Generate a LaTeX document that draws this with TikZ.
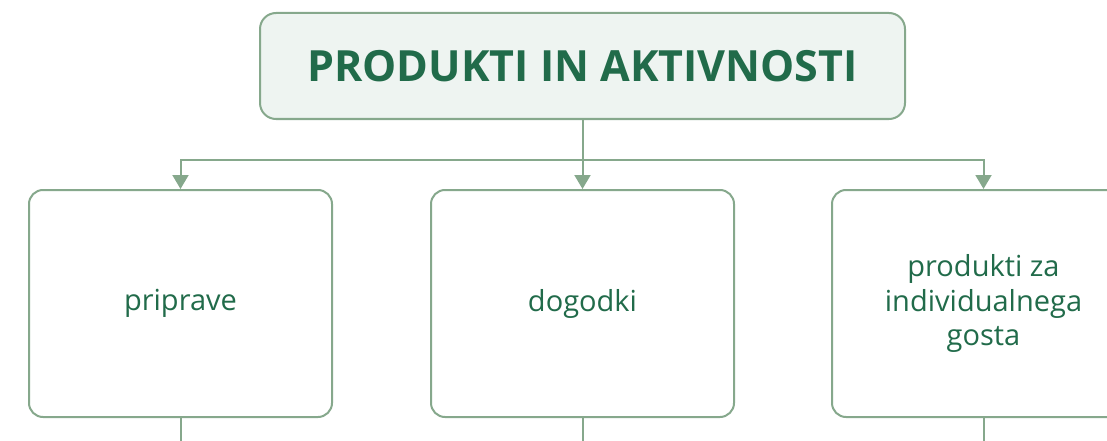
\documentclass[tikz,border=0pt]{standalone}
\usepackage{fontspec}
\setmainfont{Open Sans}
\usetikzlibrary{arrows.meta}
\definecolor{edge}{HTML}{86A88C}
\definecolor{topfill}{HTML}{EEF4F1}
\definecolor{ink}{HTML}{216B4A}
\tikzset{
  box/.style={draw=edge, line width=2pt, rounded corners=14pt, fill=white,
    text=ink, align=center, font=\fontsize{29}{34.5}\selectfont,
    minimum width=303pt, minimum height=227pt, inner sep=0pt},
  titlebox/.style={box, fill=topfill, rounded corners=16pt,
    minimum width=645pt, minimum height=106pt,
    font=\bfseries\fontsize{43}{48}\selectfont},
  link/.style={draw=edge, line width=2pt},
  arrowlink/.style={link, -{Triangle[width=16pt,length=14pt]}}
}
\begin{document}
\begin{tikzpicture}[x=1pt,y=-1pt]
\useasboundingbox (0,0) rectangle (1107,441);
\clip (0,0) rectangle (1107,441);
\node[titlebox] (top) at (582.5,66) {PRODUKTI IN AKTIVNOSTI};
\node[box] (a) at (180.5,303.5) {priprave};
\node[box] (b) at (582.5,303.5) {dogodki};
\node[box] (c) at (983.5,303.5) {produkti za\\individualnega\\gosta};
\coordinate (bar) at (582.5,160);
\draw[link] (top.south) -- (bar);
\draw[arrowlink] (bar) -| (a.north);
\draw[arrowlink] (bar) -- (b.north);
\draw[arrowlink] (bar) -| (c.north);
\coordinate (ae) at (180.5,445);
\coordinate (be) at (582.5,445);
\coordinate (ce) at (983.5,445);
\draw[link] (a.south) -- (ae);
\draw[link] (b.south) -- (be);
\draw[link] (c.south) -- (ce);
\end{tikzpicture}
\end{document}
